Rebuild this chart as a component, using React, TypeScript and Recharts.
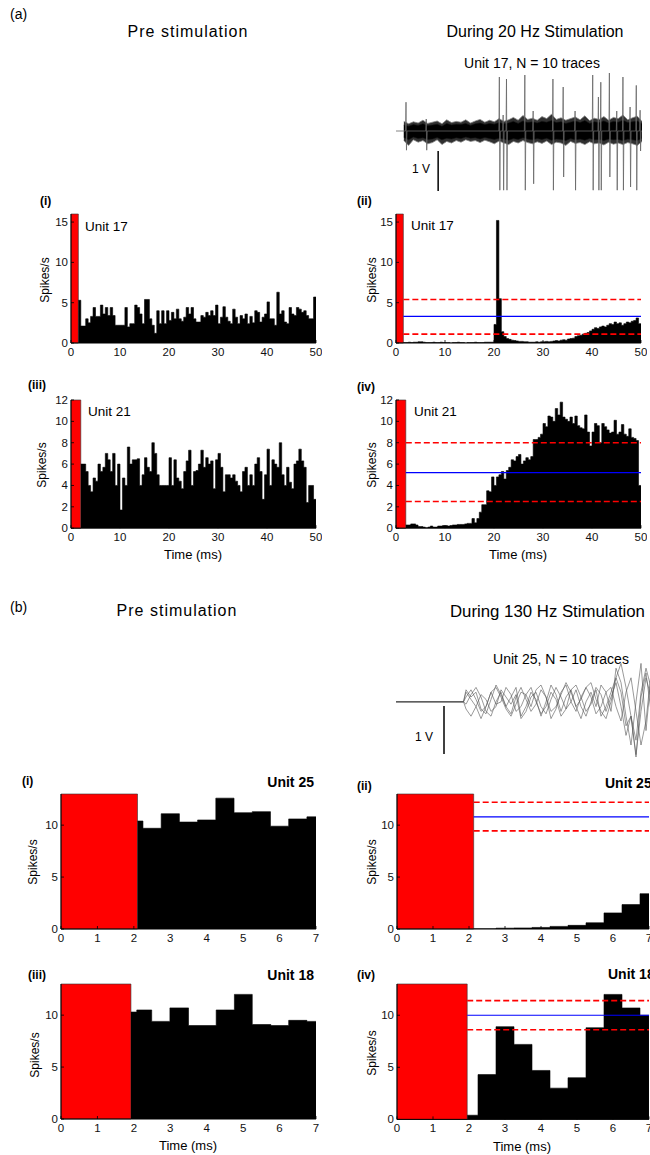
import React from 'react'
import {
  ComposedChart,
  Area,
  Line,
  XAxis,
  YAxis,
  ReferenceArea,
  ReferenceLine,
} from 'recharts'

const FONT = '"Liberation Sans", Arial, Helvetica, sans-serif'

// ---------- (a) 20 Hz: PSTH, 0.5 ms bins ----------
const binWidth = 0.5
const pre17Start = 1.5
const pre17 = [
  5.3, 2.1, 2.1, 3.0, 2.5, 3.3, 4.4, 3.3, 3.3, 4.7, 3.6, 4.4, 3.4, 4.4, 3.4, 2.2, 2.2, 2.2, 2.2, 4.4,
  2.0, 2.4, 2.4, 4.7, 4.4, 3.6, 2.4, 5.4, 5.4, 3.0, 2.2, 1.2, 4.0, 2.4, 4.0, 2.4, 4.0, 2.8, 3.8, 3.0,
  4.2, 3.0, 2.7, 3.2, 4.4, 3.6, 4.4, 3.0, 2.6, 2.6, 3.4, 3.2, 3.8, 3.4, 4.0, 3.4, 4.7, 2.4, 3.2, 4.5,
  3.2, 2.7, 2.4, 4.2, 3.2, 2.4, 3.4, 3.0, 3.6, 2.4, 3.3, 2.5, 4.0, 3.8, 2.6, 3.2, 3.6, 5.1, 3.0, 3.0,
  2.2, 6.3, 3.6, 4.0, 2.6, 2.4, 4.4, 3.6, 3.4, 4.4, 4.2, 3.8, 4.0, 3.4, 3.0, 3.0, 5.7,
]
const dur17Start = 1.5
const dur17 = [
  0.05, 0.05, 0.1, 0.05, 0.1, 0.1, 0.15, 0.15, 0.1, 0.05, 0.05, 0.05, 0.1, 0.05, 0.05, 0.1, 0.05, 0.05,
  0.05, 0.0, 0.05, 0.05, 0.1, 0.05, 0.05, 0.0, 0.05, 0.05, 0.05, 0.1, 0.05, 0.05, 0.05, 0.1, 0.1, 0.1,
  0.1, 2.3, 15.2, 5.5, 1.4, 0.8, 0.55, 0.45, 0.35, 0.3, 0.25, 0.2, 0.2, 0.15, 0.15, 0.1, 0.1, 0.1,
  0.15, 0.1, 0.15, 0.15, 0.2, 0.15, 0.2, 0.25, 0.3, 0.25, 0.35, 0.4, 0.35, 0.5, 0.55, 0.6, 0.8, 0.9,
  0.95, 1.1, 1.2, 1.3, 1.5, 1.7, 1.9, 1.8, 2.0, 2.1, 2.0, 2.2, 2.4, 2.3, 2.6, 2.4, 2.5, 2.2, 2.4,
  2.6, 2.5, 2.7, 2.8, 3.1, 2.4,
]
const pre21Start = 2
const pre21 = [
  6.0, 6.0, 5.3, 4.0, 3.4, 4.7, 4.4, 6.0, 5.3, 5.7, 7.0, 6.4, 5.3, 7.0, 4.0, 6.0, 1.7, 4.7, 4.0, 7.6,
  6.0, 6.4, 6.4, 6.5, 4.0, 5.0, 6.6, 5.7, 5.3, 8.0, 7.0, 5.0, 4.0, 4.0, 4.0, 4.0, 6.6, 4.0, 6.4, 4.7,
  4.4, 3.7, 5.3, 6.3, 7.3, 4.0, 5.3, 5.4, 6.0, 7.3, 5.7, 6.6, 6.0, 6.3, 3.7, 6.4, 7.0, 5.7, 3.4, 5.0,
  5.0, 4.7, 5.0, 4.4, 4.0, 3.4, 5.3, 5.7, 4.0, 5.0, 4.0, 6.0, 6.6, 5.3, 2.7, 5.0, 7.4, 4.0, 6.4, 6.0,
  5.7, 8.0, 5.0, 4.0, 5.7, 4.3, 3.7, 6.0, 6.3, 7.4, 6.3, 5.7, 2.4, 4.0, 4.0, 2.7,
]
const dur21Start = 2
const dur21 = [
  0.3, 0.3, 0.4, 0.4, 0.3, 0.15, 0.15, 0.1, 0.05, 0.1, 0.2, 0.1, 0.1, 0.2, 0.2, 0.25, 0.25, 0.2, 0.25,
  0.3, 0.3, 0.35, 0.35, 0.35, 0.4, 0.45, 0.45, 0.9, 0.5, 0.9, 1.5, 2.2, 2.2, 3.5, 3.4, 4.8, 4.0, 4.8,
  5.0, 5.3, 4.6, 5.4, 5.7, 6.4, 6.3, 6.7, 6.9, 6.0, 6.3, 6.6, 6.4, 6.7, 8.3, 8.3, 8.5, 8.8, 9.8, 9.5,
  10.5, 10.4, 10.0, 11.2, 10.6, 11.8, 10.4, 10.2, 10.0, 10.4, 9.8, 10.5, 9.6, 9.4, 9.3, 10.6, 9.0, 7.7,
  9.0, 9.8, 9.6, 8.0, 9.8, 9.5, 9.2, 8.9, 9.0, 10.1, 8.8, 9.0, 9.7, 8.8, 8.6, 9.3, 8.5, 8.4, 8.2, 4.0,
]

// ---------- (b) 130 Hz: PSTH with bin edges (ms) ----------
const pre25Edges = [2.1, 2.25, 2.75, 3.25, 3.75, 4.25, 4.75, 5.25, 5.75, 6.25, 6.75]
const pre25 = [10.4, 9.7, 11.1, 10.3, 10.5, 12.6, 11.2, 11.3, 9.9, 10.6, 10.8]
const dur25Edges = [2.13, 2.75, 3.25, 3.75, 4.25, 4.75, 5.25, 5.75, 6.25, 6.75]
const dur25 = [0.02, 0.08, 0.1, 0.15, 0.25, 0.35, 0.6, 1.55, 2.35, 3.4]
const pre18Edges = [1.92, 2.08, 2.49, 2.99, 3.5, 4.26, 4.76, 5.25, 5.76, 6.25, 6.75]
const pre18 = [10.3, 10.5, 9.4, 10.7, 9.0, 10.5, 12.0, 9.1, 9.0, 9.5, 9.4]
const dur18Edges = [1.95, 2.25, 2.75, 3.25, 3.75, 4.25, 4.75, 5.25, 5.75, 6.25, 6.75]
const dur18 = [0.4, 4.3, 8.9, 7.2, 4.7, 3.0, 4.0, 8.8, 12.0, 10.7, 10.0]

// mean and +/- thresholds during stimulation
const thr17 = { mean: 3.3, hi: 5.4, lo: 1.1 }
const thr21 = { mean: 5.2, hi: 8.0, lo: 2.5 }
const thr25 = { mean: 10.8, hi: 12.2, lo: 9.45 }
const thr18 = { mean: 10.0, hi: 11.4, lo: 8.6 }

// ---------- (a) raw traces, unit 17 (V) ----------
const bandStep = 2
const outerHi = [0.24, 0.18, 0.23, 0.20, 0.27, 0.19, 0.22, 0.25, 0.18, 0.28, 0.21, 0.24, 0.22, 0.28, 0.20, 0.25, 0.29, 0.22, 0.27, 0.23, 0.31, 0.24, 0.28, 0.34, 0.27, 0.39, 0.29, 0.32, 0.27, 0.36, 0.31, 0.42, 0.29, 0.33, 0.27, 0.31, 0.35, 0.28, 0.38, 0.26, 0.32, 0.29, 0.36, 0.27, 0.34, 0.31, 0.40, 0.28, 0.33, 0.37, 0.24]
const outerLo = [-0.24, -0.36, -0.22, -0.28, -0.24, -0.32, -0.29, -0.22, -0.34, -0.26, -0.30, -0.24, -0.28, -0.22, -0.26, -0.24, -0.29, -0.23, -0.27, -0.32, -0.25, -0.30, -0.34, -0.26, -0.30, -0.24, -0.29, -0.32, -0.27, -0.31, -0.25, -0.34, -0.28, -0.30, -0.36, -0.26, -0.31, -0.29, -0.34, -0.27, -0.32, -0.30, -0.35, -0.28, -0.33, -0.30, -0.34, -0.29, -0.32, -0.36, -0.26]
const innerHi = [0.15, 0.12, 0.16, 0.14, 0.18, 0.13, 0.15, 0.17, 0.12, 0.19, 0.15, 0.17, 0.16, 0.19, 0.14, 0.18, 0.20, 0.16, 0.19, 0.17, 0.21, 0.18, 0.20, 0.24, 0.19, 0.25, 0.21, 0.23, 0.20, 0.24, 0.22, 0.26, 0.21, 0.23, 0.19, 0.22, 0.25, 0.21, 0.26, 0.19, 0.23, 0.21, 0.25, 0.20, 0.24, 0.22, 0.27, 0.21, 0.23, 0.25, 0.18]
const innerLo = [-0.16, -0.22, -0.15, -0.19, -0.17, -0.21, -0.20, -0.16, -0.22, -0.18, -0.20, -0.17, -0.19, -0.15, -0.18, -0.17, -0.20, -0.16, -0.19, -0.21, -0.18, -0.20, -0.23, -0.19, -0.21, -0.17, -0.20, -0.22, -0.19, -0.21, -0.18, -0.23, -0.20, -0.21, -0.24, -0.19, -0.22, -0.20, -0.23, -0.19, -0.22, -0.21, -0.24, -0.20, -0.22, -0.21, -0.24, -0.20, -0.22, -0.24, -0.18]
const spikeT = [1, 9.5, 40.2, 41.8, 43.2, 50.9, 54.4, 62.7, 67.0, 72.0, 79.4, 81.8, 82.8, 86.4, 89.5, 92.1, 95.1, 97.7, 99.3]
const spikeUp = [0.72, 0.3, 1.35, 0.4, 1.3, 1.4, 0.5, 1.3, 1.1, 0.5, 1.4, 0.85, 1.22, 1.45, 0.5, 1.35, 0.6, 1.14, 0.52]
const spikeDown = [-0.48, -0.48, -1.48, -1.48, -1.48, -1.48, -1.32, -1.48, -1.15, -1.48, -1.48, -1.48, -1.48, -1.15, -1.48, -1.48, -1.4, -1.48, -0.5]

// ---------- (b) raw traces, unit 25 (V) ----------
const traceBStart = 13.5
const traceBT0 = 14
const traceB1 = [0.1, 0.25, 0.05, -0.2, -0.1, 0.2, 0.3, 0.1, -0.15, -0.3, -0.05, 0.2, 0.15, -0.1, 0.25, 0.35, 0.1, -0.2, -0.1, 0.15, 0.4, 0.2, -0.1, 0.05, 0.3, 0.1, -0.25, -0.1, 0.2, 0.3, -0.1, -0.4, 0.2, 0.5, -0.2, -0.9, -0.4, 0.6]
const traceB2 = [-0.15, -0.3, -0.1, 0.15, 0.05, -0.2, -0.1, 0.25, 0.1, -0.05, 0.15, -0.35, -0.2, 0.1, 0.2, -0.1, -0.25, 0.05, 0.3, 0.1, -0.15, 0.0, 0.25, -0.1, -0.3, 0.0, 0.3, 0.15, -0.2, 0.1, 0.4, -0.1, -0.7, -0.3, -1.1, -0.2, 0.5, 0.1]
const traceB3 = [0.2, 0.05, -0.1, -0.35, -0.1, 0.2, -0.05, 0.0, 0.3, 0.15, -0.2, -0.1, 0.15, 0.3, 0.0, -0.25, -0.1, 0.2, 0.05, -0.3, -0.15, 0.25, 0.35, 0.1, -0.2, -0.05, 0.25, -0.3, -0.1, 0.2, 0.5, 0.8, 0.3, -0.3, -0.8, 0.2, 0.7, 0.3]
const traceB4 = [-0.05, 0.15, 0.3, 0.1, -0.2, -0.3, 0.0, 0.2, -0.1, -0.25, 0.1, 0.3, 0.05, -0.2, -0.05, 0.25, 0.1, -0.35, -0.15, 0.2, 0.35, 0.0, -0.2, 0.1, 0.3, 0.4, 0.05, -0.2, -0.35, 0.0, 0.5, 0.2, -0.5, -0.3, -1.15, 0.1, 0.6, -0.2]
const traceB5 = [0.25, 0.1, 0.2, -0.15, -0.25, 0.05, 0.35, 0.15, -0.1, 0.1, 0.3, -0.3, -0.1, 0.2, 0.05, -0.3, 0.0, 0.35, 0.15, -0.2, 0.1, 0.25, -0.1, -0.35, 0.0, 0.2, -0.1, 0.35, 0.2, -0.2, 0.7, 0.4, -0.3, -0.9, 0.0, 0.8, -0.6, 0.5]

type Row = { t: number; v: number }

const binned = (start: number, values: number[], end: number): Row[] => {
  const rows: Row[] = []
  values.forEach((v, i) => {
    const t = start + i * binWidth
    if (t < end) rows.push({ t, v })
  })
  rows.push({ t: end, v: rows[rows.length - 1].v })
  return rows
}

const edged = (edges: number[], values: number[], end: number): Row[] => {
  const rows = edges.map((t, i) => ({ t, v: values[i] }))
  rows.push({ t: end, v: values[values.length - 1] })
  return rows
}

const tickText = { fontFamily: FONT, fontSize: 11.5, fill: '#111' }

const BottomTick = (props: any) => {
  const { x, y, payload } = props
  return (
    <g>
      <line x1={x} x2={x} y1={y} y2={y - 3} stroke="#000" strokeWidth={0.8} />
      <text x={x} y={y + 12.5} textAnchor="middle" {...tickText}>{payload.value}</text>
    </g>
  )
}
const LeftTick = (props: any) => {
  const { x, y, payload } = props
  return (
    <g>
      <line x1={x} x2={x + 3} y1={y} y2={y} stroke="#000" strokeWidth={0.8} />
      <text x={x - 3} y={y + 4} textAnchor="end" {...tickText}>{payload.value}</text>
    </g>
  )
}
const TopTick = (props: any) => {
  const { x, y } = props
  return <line x1={x} x2={x} y1={y} y2={y + 3} stroke="#000" strokeWidth={0.8} />
}
const RightTick = (props: any) => {
  const { x, y } = props
  return <line x1={x} x2={x - 3} y1={y} y2={y} stroke="#000" strokeWidth={0.8} />
}

type PanelProps = {
  x0: number
  x1: number
  top: number
  bottom: number
  xMax: number
  yMax: number
  xTicks: number[]
  yTicks: number[]
  rows: Row[]
  stim: number
  thr?: { mean: number; hi: number; lo: number }
}

const ML = 34
const MR = 6
const MT = 6
const XH = 24

const Panel: React.FC<PanelProps> = (p) => {
  const w = p.x1 - p.x0 + ML + MR
  const h = p.bottom - p.top + MT + XH
  const seg = (y: number) => [{ x: p.stim, y }, { x: p.xMax, y }]
  return (
    <div style={{ position: 'absolute', left: p.x0 - ML, top: p.top - MT }}>
      <ComposedChart width={w} height={h} data={p.rows} margin={{ top: MT, right: MR, bottom: 0, left: 0 }}>
        <XAxis dataKey="t" type="number" domain={[0, p.xMax]} ticks={p.xTicks} interval={0} allowDataOverflow
          height={XH} tickSize={0} tickMargin={0} tickLine={false} axisLine={{ stroke: '#000' }} tick={<BottomTick />} />
        <XAxis xAxisId="top" orientation="top" dataKey="t" type="number" domain={[0, p.xMax]} ticks={p.xTicks}
          interval={0} allowDataOverflow height={0} tickSize={0} tickMargin={0} tickLine={false}
          axisLine={{ stroke: '#000' }} tick={<TopTick />} />
        <YAxis type="number" domain={[0, p.yMax]} ticks={p.yTicks} interval={0} allowDataOverflow width={ML}
          tickSize={0} tickMargin={0} tickLine={false} axisLine={{ stroke: '#000' }} tick={<LeftTick />} />
        <YAxis yAxisId="right" orientation="right" type="number" domain={[0, p.yMax]} ticks={p.yTicks}
          interval={0} allowDataOverflow width={0} tickSize={0} tickMargin={0} tickLine={false}
          axisLine={{ stroke: '#000' }} tick={<RightTick />} />
        <ReferenceArea x1={0} x2={p.stim} y1={0} y2={p.yMax} fill="#ff0000" fillOpacity={1} stroke="#333" strokeWidth={0.6} />
        <Area type="stepAfter" dataKey="v" stroke="#000" strokeWidth={0.6} fill="#000" fillOpacity={1}
          dot={false} activeDot={false} isAnimationActive={false} />
        {p.thr && <ReferenceLine segment={seg(p.thr.hi)} stroke="#ff0000" strokeWidth={1.6} strokeDasharray="6 3" />}
        {p.thr && <ReferenceLine segment={seg(p.thr.mean)} stroke="#0000ff" strokeWidth={1.2} />}
        {p.thr && <ReferenceLine segment={seg(p.thr.lo)} stroke="#ff0000" strokeWidth={1.6} strokeDasharray="6 3" />}
      </ComposedChart>
    </div>
  )
}

const TraceA: React.FC = () => {
  const left = 396
  const top = 70.7
  const w = 246
  const h = 120
  const xDom: [number, number] = [-3.3, 100]
  const yDom: [number, number] = [-1.5, 1.5]
  const band = outerHi.map((_, i) => ({
    t: i * bandStep,
    outer: [outerLo[i], outerHi[i]],
    inner: [innerLo[i], innerHi[i]],
  }))
  const spikes: Row[] = [{ t: -3.3, v: 0 }, { t: 0, v: 0 }]
  spikeT.forEach((t, i) => {
    spikes.push({ t: t - 0.3, v: 0 }, { t: t - 0.1, v: spikeUp[i] }, { t: t + 0.1, v: spikeDown[i] }, { t: t + 0.3, v: 0 })
  })
  spikes.push({ t: 100, v: 0 })
  return (
    <>
      <div style={{ position: 'absolute', left, top }}>
        <ComposedChart width={w} height={h} data={band} margin={{ top: 0, right: 0, bottom: 0, left: 0 }}>
          <XAxis dataKey="t" type="number" domain={xDom} hide allowDataOverflow />
          <YAxis type="number" domain={yDom} width={0} tick={false} tickLine={false} axisLine={{ stroke: '#c8c8c8' }} allowDataOverflow />
          <Area type="linear" dataKey="outer" stroke="#888" strokeWidth={0.8} fill="#303030" fillOpacity={1} dot={false} activeDot={false} isAnimationActive={false} />
          <Area type="linear" dataKey="inner" stroke="#111" strokeWidth={0.6} fill="#000" fillOpacity={1} dot={false} activeDot={false} isAnimationActive={false} />
        </ComposedChart>
      </div>
      <div style={{ position: 'absolute', left, top }}>
        <ComposedChart width={w} height={h} data={spikes} margin={{ top: 0, right: 0, bottom: 0, left: 0 }}>
          <XAxis dataKey="t" type="number" domain={xDom} hide allowDataOverflow />
          <YAxis type="number" domain={yDom} hide allowDataOverflow />
          <Line type="linear" dataKey="v" stroke="#666" strokeWidth={0.8} dot={false} activeDot={false} isAnimationActive={false} />
          <ReferenceLine segment={[{ x: 14.4, y: -0.5 }, { x: 14.4, y: -1.5 }]} stroke="#000" strokeWidth={1.5} />
        </ComposedChart>
      </div>
    </>
  )
}

const TraceB: React.FC = () => {
  const left = 396
  const top = 648.9
  const rows: any[] = [
    { t: 0, a: 0, b: 0, c: 0, d: 0, e: 0 },
    { t: traceBStart, a: 0, b: 0, c: 0, d: 0, e: 0 },
  ]
  traceB1.forEach((_, i) => {
    rows.push({ t: traceBT0 + i, a: traceB1[i], b: traceB2[i], c: traceB3[i], d: traceB4[i], e: traceB5[i] })
  })
  const keys = ['a', 'b', 'c', 'd', 'e']
  return (
    <div style={{ position: 'absolute', left, top }}>
      <ComposedChart width={300} height={120} data={rows} margin={{ top: 0, right: 0, bottom: 0, left: 0 }}>
        <XAxis dataKey="t" type="number" domain={[0, 60]} hide allowDataOverflow />
        <YAxis type="number" domain={[-1.4, 1.1]} width={0} tick={false} tickLine={false} axisLine={{ stroke: '#c8c8c8' }} allowDataOverflow />
        {keys.map((k) => (
          <Line key={k} type="linear" dataKey={k} stroke="#555" strokeWidth={0.6} dot={false} activeDot={false} isAnimationActive={false} />
        ))}
        <ReferenceLine segment={[{ x: 9.6, y: -0.09 }, { x: 9.6, y: -1.09 }]} stroke="#000" strokeWidth={1.5} />
      </ComposedChart>
    </div>
  )
}

type TxtProps = {
  x: number
  y: number
  size: number
  align?: 'left' | 'center' | 'right'
  bold?: boolean
  rotate?: boolean
  spacing?: number
  children: React.ReactNode
}

const Txt: React.FC<TxtProps> = ({ x, y, size, align = 'left', bold, rotate, spacing, children }) => {
  const tx = align === 'left' ? '0' : align === 'center' ? '-50%' : '-100%'
  return (
    <div
      style={{
        position: 'absolute',
        left: x,
        top: y,
        transform: `translate(${tx}, -50%)${rotate ? ' rotate(-90deg)' : ''}`,
        fontSize: size,
        fontWeight: bold ? 'bold' : 'normal',
        letterSpacing: spacing ?? 0,
        whiteSpace: 'nowrap',
        lineHeight: 1,
        color: '#000',
      }}
    >
      {children}
    </div>
  )
}

const xA = [0, 10, 20, 30, 40, 50]
const yA1 = [0, 5, 10, 15]
const yA2 = [0, 2, 4, 6, 8, 10, 12]
const xB = [0, 1, 2, 3, 4, 5, 6, 7]
const yB = [0, 5, 10]

export default function App() {
  return (
    <div
      style={{
        position: 'absolute',
        left: 0,
        top: 0,
        width: 650,
        height: 1155,
        overflow: 'hidden',
        background: '#fff',
        fontFamily: FONT,
      }}
    >
      {/* (a) */}
      <Txt x={10} y={14} size={14}>(a)</Txt>
      <Txt x={188} y={32} size={16} spacing={1} align="center">Pre stimulation</Txt>
      <Txt x={535} y={32} size={16} align="center">During 20 Hz Stimulation</Txt>
      <Txt x={532} y={63} size={14} align="center">Unit 17, N = 10 traces</Txt>
      <Txt x={412} y={169} size={12}>1 V</Txt>
      <TraceA />

      <Txt x={40} y={201} size={12} bold>(i)</Txt>
      <Txt x={357} y={201} size={12} bold>(ii)</Txt>
      <Panel x0={71} x1={316} top={214} bottom={343} xMax={50} yMax={16} xTicks={xA} yTicks={yA1}
        rows={binned(pre17Start, pre17, 50)} stim={1.5} />
      <Panel x0={396} x1={641} top={214} bottom={343} xMax={50} yMax={16} xTicks={xA} yTicks={yA1}
        rows={binned(dur17Start, dur17, 50)} stim={1.5} thr={thr17} />
      <Txt x={85} y={227} size={13.5}>Unit 17</Txt>
      <Txt x={411} y={226} size={13.5}>Unit 17</Txt>
      <Txt x={45} y={280} size={12} align="center" rotate>Spikes/s</Txt>
      <Txt x={372} y={280} size={12} align="center" rotate>Spikes/s</Txt>

      <Txt x={28} y={385} size={12} bold>(iii)</Txt>
      <Txt x={357} y={387} size={12} bold>(iv)</Txt>
      <Panel x0={71} x1={316} top={399.5} bottom={527.7} xMax={50} yMax={12} xTicks={xA} yTicks={yA2}
        rows={binned(pre21Start, pre21, 50)} stim={2} />
      <Panel x0={396} x1={641} top={399.5} bottom={527.7} xMax={50} yMax={12} xTicks={xA} yTicks={yA2}
        rows={binned(dur21Start, dur21, 50)} stim={2} thr={thr21} />
      <Txt x={88} y={412} size={13.5}>Unit 21</Txt>
      <Txt x={414} y={412} size={13.5}>Unit 21</Txt>
      <Txt x={42} y={465} size={12} align="center" rotate>Spikes/s</Txt>
      <Txt x={372} y={465} size={12} align="center" rotate>Spikes/s</Txt>
      <Txt x={193} y={554} size={13} align="center">Time (ms)</Txt>
      <Txt x={518} y={554} size={13} align="center">Time (ms)</Txt>

      {/* (b) */}
      <Txt x={10} y={607} size={14}>(b)</Txt>
      <Txt x={177} y={611} size={16} spacing={1} align="center">Pre stimulation</Txt>
      <Txt x={450} y={612} size={16.8}>During 130 Hz Stimulation</Txt>
      <Txt x={561} y={659} size={14} align="center">Unit 25, N = 10 traces</Txt>
      <Txt x={415} y={737} size={12}>1 V</Txt>
      <TraceB />

      <Txt x={22} y={781} size={12} bold>(i)</Txt>
      <Txt x={357} y={786} size={12} bold>(ii)</Txt>
      <Txt x={314} y={782} size={14} bold align="right">Unit 25</Txt>
      <Txt x={605} y={783} size={14} bold>Unit 25</Txt>
      <Panel x0={61} x1={316} top={794.3} bottom={929.3} xMax={7} yMax={13} xTicks={xB} yTicks={yB}
        rows={edged(pre25Edges, pre25, 7)} stim={2.1} />
      <Panel x0={396.7} x1={648.7} top={794.3} bottom={929.3} xMax={7} yMax={13} xTicks={xB} yTicks={yB}
        rows={edged(dur25Edges, dur25, 7)} stim={2.13} thr={thr25} />
      <Txt x={33} y={862} size={12} align="center" rotate>Spikes/s</Txt>
      <Txt x={372} y={862} size={12} align="center" rotate>Spikes/s</Txt>

      <Txt x={28} y={975} size={12} bold>(iii)</Txt>
      <Txt x={357} y={975} size={12} bold>(iv)</Txt>
      <Txt x={314} y={975} size={14} bold align="right">Unit 18</Txt>
      <Txt x={608} y={974} size={14} bold>Unit 18</Txt>
      <Panel x0={61} x1={316} top={984.3} bottom={1119.3} xMax={7} yMax={13} xTicks={xB} yTicks={yB}
        rows={edged(pre18Edges, pre18, 7)} stim={1.92} />
      <Panel x0={396.7} x1={648.7} top={984.3} bottom={1119.7} xMax={7} yMax={13} xTicks={xB} yTicks={yB}
        rows={edged(dur18Edges, dur18, 7)} stim={1.95} thr={thr18} />
      <Txt x={35} y={1055} size={12} align="center" rotate>Spikes/s</Txt>
      <Txt x={372} y={1053} size={12} align="center" rotate>Spikes/s</Txt>
      <Txt x={188} y={1145} size={13} align="center">Time (ms)</Txt>
      <Txt x={522} y={1146} size={13} align="center">Time (ms)</Txt>
    </div>
  )
}
